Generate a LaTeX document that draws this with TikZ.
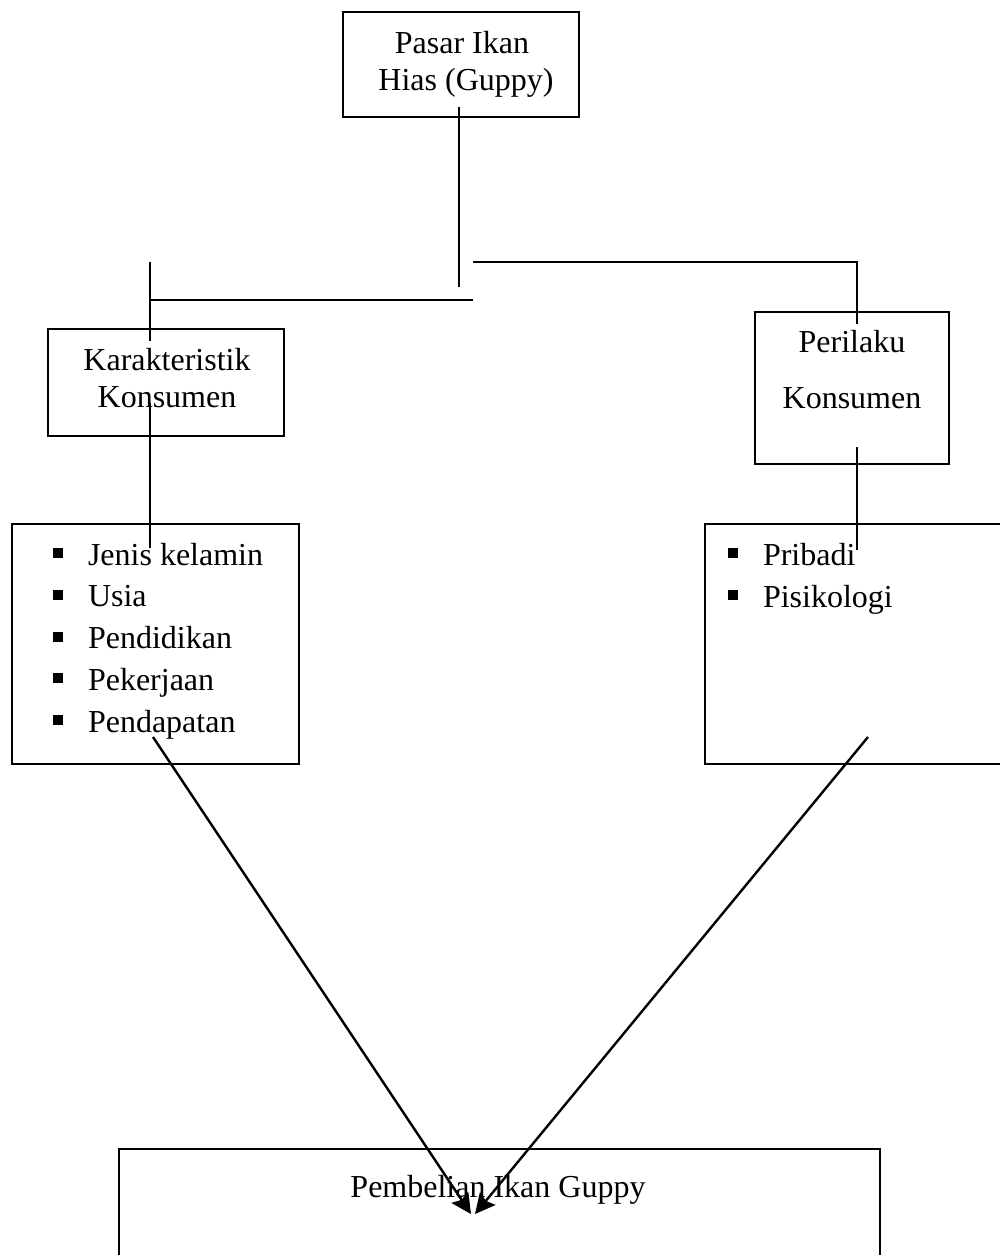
\documentclass[tikz,border=0pt]{standalone}
\usepackage{fontspec}
\setmainfont{Liberation Serif}
\usetikzlibrary{arrows.meta}

\begin{document}
\begin{tikzpicture}[x=1pt, y=-1pt]
    \tikzstyle{every node}=[inner sep=0pt, outer sep=0pt,
				% the text:
				font=\fontsize{32}{37}\selectfont
					]
    \tikzstyle{kotak} = [draw, line width=1.8pt, rectangle]
    \tikzstyle{garis} = [line width=1.8pt]
    \tikzstyle{panah} = [line width=2.4pt, -{Stealth[length=20pt, width=20pt, inset=3pt]}]
    \tikzstyle{butir} = [fill=black, minimum size=10pt]
    \clip (0,0) rectangle (1000,1255);

    % boxes
    \node[kotak, minimum width=236pt, minimum height=105pt] (pasar) at (461,64.5) {};
    \node[kotak, minimum width=236pt, minimum height=107pt] (karakter) at (166,382.5) {};
    \node[kotak, minimum width=194pt, minimum height=152pt] (perilaku) at (852,388) {};
    \node[kotak, minimum width=287pt, minimum height=240pt] (daftarA) at (155.5,644) {};
    \node[kotak, minimum width=305pt, minimum height=240pt] (daftarB) at (857.5,644) {};
    \node[kotak, minimum width=761pt, minimum height=121pt] (beli) at (499.5,1209.5) {};

    % texts
    \node[anchor=base] (pasarA) at (462,53) {Pasar Ikan};
    \node[anchor=base] (pasarB) at (466,90) {Hias (Guppy)};
    \node[anchor=base] (karakterA) at (167,370) {Karakteristik};
    \node[anchor=base] (karakterB) at (167,407) {Konsumen};
    \node[anchor=base] (perilakuA) at (852,352) {Perilaku};
    \node[anchor=base] (perilakuB) at (852,408) {Konsumen};
    \node[anchor=base] (beliA) at (498,1197) {Pembelian Ikan Guppy};

    % lists
    \foreach \teks [count=\i] in {Jenis kelamin, Usia, Pendidikan, Pekerjaan, Pendapatan} {
        \node[butir] (bA\i) at (58,{553+41.75*(\i-1)}) {};
        \node[anchor=base west] (itemA\i) at (88,{565+41.75*(\i-1)}) {\teks};
    }
    \foreach \teks [count=\i] in {Pribadi, Pisikologi} {
        \node[butir] (bB\i) at (733,{553+42*(\i-1)}) {};
        \node[anchor=base west] (itemB\i) at (763,{565+42*(\i-1)}) {\teks};
    }

    % connector ends
    \coordinate (c1) at (459,107);
    \coordinate (c2) at (459,287);
    \coordinate (c3) at (473,262);
    \coordinate (c4) at (857,262);
    \coordinate (c5) at (857,324);
    \coordinate (c6) at (150,262);
    \coordinate (c7) at (150,341);
    \coordinate (c8) at (150,300);
    \coordinate (c9) at (473,300);
    \coordinate (c10) at (150,403);
    \coordinate (c11) at (150,548);
    \coordinate (c12) at (857,447);
    \coordinate (c13) at (857,550);
    \coordinate (d1) at (153,737);
    \coordinate (d2) at (868,737);
    \coordinate (tujuA) at (471,1214);
    \coordinate (tujuB) at (475,1214);

    \draw[garis] (c1) -- (c2);
    \draw[garis] (c3) -- (c4) -- (c5);
    \draw[garis] (c6) -- (c7);
    \draw[garis] (c8) -- (c9);
    \draw[garis] (c10) -- (c11);
    \draw[garis] (c12) -- (c13);
    \draw[panah] (d1) -- (tujuA);
    \draw[panah] (d2) -- (tujuB);
\end{tikzpicture}
\end{document}
